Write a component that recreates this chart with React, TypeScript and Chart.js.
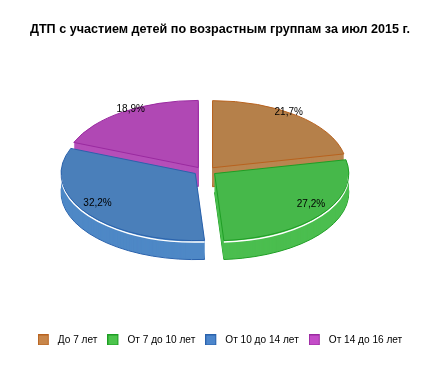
import { useEffect, useRef } from "react";
import { Chart, registerables } from "chart.js";

Chart.register(...registerables);

const titleText = "ДТП с участием детей по возрастным группам за июл 2015 г.";
const categories = ["До 7 лет", "От 7 до 10 лет", "От 10 до 14 лет", "От 14 до 16 лет"];
const values = [21.7, 27.2, 32.2, 18.9];
const percentLabels = ["21,7%", "27,2%", "32,2%", "18,9%"];
const topColors = ["#B5804A", "#46B84A", "#4A7FBA", "#B048B4"];
const sideColors = ["#B98650", "#4BBE4F", "#4E88C6", "#B54FB9"];
const edgeColors = ["#B8621E", "#1E9E24", "#2A62AC", "#9A2AA0"];
const legendFill = ["#C8864A", "#4CC44C", "#4C86CC", "#C44CC8"];

const FONT = "'Liberation Sans', Arial, sans-serif";

const pie3d = {
  id: "pie3d",
  beforeDatasetsDraw(chart: any) {
    const meta = chart.getDatasetMeta(0);
    const arcs = meta.data;
    if (!arcs || !arcs.length) return false;
    const ctx = chart.ctx as CanvasRenderingContext2D;
    const a0 = arcs[0].getProps(["x", "y", "outerRadius"], true);
    const R = a0.outerRadius;
    const rx = R * 0.97;
    const ry = rx * 0.5;
    const depth = Math.round(rx * 0.14);
    const cx = a0.x - 15;
    const cy = a0.y - 15;
    const off = 12;
    const k = 0.35;
    const items = arcs.map((arc: any, i: number) => {
      const p = arc.getProps(["startAngle", "endAngle"], true);
      const mid = (p.startAngle + p.endAngle) / 2;
      return {
        i,
        s: p.startAngle,
        e: p.endAngle,
        mid,
        x: cx + off * Math.cos(mid),
        y: cy + off * Math.sin(mid) * k,
      };
    });
    const path = (x: number, y: number, s: number, e: number) => {
      ctx.beginPath();
      ctx.moveTo(x, y);
      ctx.ellipse(x, y, rx, ry, 0, s, e);
      ctx.closePath();
    };
    ctx.save();
    const order = [...items].sort((a, b) => Math.sin(a.mid) - Math.sin(b.mid));
    for (const it of order) {
      path(it.x, it.y + depth, it.s, it.e);
      ctx.fillStyle = sideColors[it.i];
      ctx.fill();
      ctx.strokeStyle = edgeColors[it.i];
      ctx.lineWidth = 1;
      ctx.stroke();
      for (let d = depth - 1; d >= 1; d -= 1) {
        path(it.x, it.y + d, it.s, it.e);
        ctx.fill();
      }
    }
    for (const it of order) {
      path(it.x, it.y, it.s, it.e);
      ctx.fillStyle = topColors[it.i];
      ctx.fill();
      const fs = Math.max(it.s, 0);
      const fe = Math.min(it.e, Math.PI);
      if (fe > fs) {
        ctx.beginPath();
        ctx.ellipse(it.x, it.y + 1.5, rx, ry, 0, fs, fe);
        ctx.strokeStyle = "#ffffff";
        ctx.lineWidth = 1.5;
        ctx.stroke();
      }
      path(it.x, it.y, it.s, it.e);
      ctx.strokeStyle = edgeColors[it.i];
      ctx.lineWidth = 1;
      ctx.stroke();
    }
    ctx.fillStyle = "#000000";
    ctx.font = "10px " + FONT;
    ctx.textAlign = "center";
    ctx.textBaseline = "middle";
    for (const it of items) {
      const tx = it.x + rx * 0.9 * Math.cos(it.mid);
      const ty = it.y + ry * 0.93 * Math.sin(it.mid) - 7;
      ctx.fillText(percentLabels[it.i], tx, ty);
    }
    ctx.restore();
    return false;
  },
};

function makeSwatch(fill: string, stroke: string): HTMLCanvasElement {
  const c = document.createElement("canvas");
  c.width = 15;
  c.height = 11;
  const g = c.getContext("2d") as CanvasRenderingContext2D;
  g.fillStyle = fill;
  g.fillRect(0, 0, 11, 11);
  g.strokeStyle = stroke;
  g.lineWidth = 1;
  g.strokeRect(0.5, 0.5, 10, 10);
  return c;
}

export default function App() {
  const ref = useRef<HTMLCanvasElement | null>(null);
  useEffect(() => {
    document.body.style.margin = "0";
    if (!ref.current) return;
    const swatches = categories.map((_, i) => makeSwatch(legendFill[i], edgeColors[i]));
    const chart = new Chart(ref.current, {
      type: "pie",
      data: {
        labels: categories,
        datasets: [
          {
            data: values,
            backgroundColor: topColors,
            borderColor: edgeColors,
            borderWidth: 1,
          },
        ],
      },
      plugins: [pie3d],
      options: {
        responsive: false,
        animation: false,
        events: [],
        layout: { padding: { bottom: 15 } },
        plugins: {
          title: {
            display: true,
            text: titleText,
            color: "#000000",
            font: { family: FONT, size: 12.6, weight: "bold" },
            padding: { top: 22, bottom: 10 },
          },
          legend: {
            position: "bottom",
            labels: {
              usePointStyle: true,
              pointStyleWidth: 15,
              boxHeight: 10,
              padding: 10,
              color: "#000000",
              font: { family: FONT, size: 10.1 },
              generateLabels: () =>
                categories.map((text, i) => ({
                  text,
                  fillStyle: legendFill[i],
                  strokeStyle: edgeColors[i],
                  lineWidth: 1,
                  pointStyle: swatches[i],
                  hidden: false,
                  index: i,
                  datasetIndex: 0,
                  fontColor: "#000000",
                })),
            },
          },
          tooltip: { enabled: false },
        },
      },
    });
    return () => chart.destroy();
  }, []);
  return (
    <div style={{ width: 440, height: 370 }}>
      <canvas ref={ref} width={440} height={370} />
    </div>
  );
}
